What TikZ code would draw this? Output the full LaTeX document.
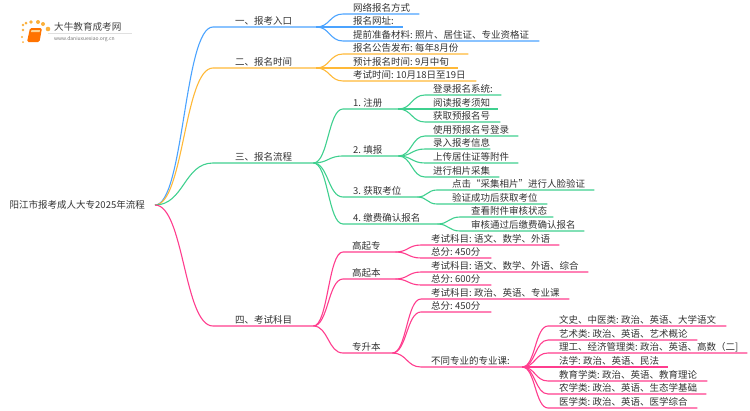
\documentclass[tikz,border=0pt]{standalone}
\usepackage{fontspec}
\setmainfont{Noto Sans CJK SC}
\usetikzlibrary{calc}
\definecolor{lineblue}{HTML}{4BA3FF}
\definecolor{lineorange}{HTML}{FFB938}
\definecolor{linegreen}{HTML}{3FD08F}
\definecolor{linepink}{HTML}{FF3D8E}
\definecolor{inktext}{HTML}{333333}
\definecolor{sunorange}{HTML}{FBB03B}
\tikzset{
    topic/.style={anchor=south west, inner xsep=0pt, inner ysep=0.4pt, align=left,
        font=\fontsize{9.5}{10}\selectfont, text=inktext, text height=8.5pt, text depth=1.5pt},
    branch/.style={to path={.. controls ($(\tikztostart)!.5!(\tikztostart-|\tikztotarget)$)
        and ($(\tikztotarget)!.5!(\tikztostart|-\tikztotarget)$) .. (\tikztotarget)}}
}
\newcommand{\gap}{\hspace{2.2pt}}
% colour, name, parent anchor, x, y, end of line, text start, text
\newcommand{\topicline}[8]{
    \pgfmathsetmacro{\linew}{#6-#4}
    \pgfmathsetmacro{\textpad}{#7-#4}
    \node[topic, text width=\linew pt] (#2) at (#4, #5) {\hspace*{\textpad pt}#8};
    \draw[#1, line width=1.1pt] (#3) to[branch] (#2.south west) -- (#2.south east);
}
\begin{document}
\begin{tikzpicture}[x=1pt, y=-1pt]
    \useasboundingbox (0, 0) rectangle (750, 410);
    % logo
    \foreach \dotx/\doty/\dotr in {23/25/1.3, 26/23/1.5, 31/22/1.9, 38/22/2, 43/24/2, 48/29/2.3, 23/30/1.3, 22/37/1.1, 23/42/1}
        \fill[sunorange] (\dotx, \doty) circle (\dotr);
    \fill[orange!90!red, rounded corners=1.5pt] (30, 28) -- (42, 28) -- (39.5, 42) -- (27, 42) -- cycle;
    \fill[sunorange!55!white] (31.5, 30) -- (40, 30) -- (39.6, 32) -- (31, 32) -- cycle;
    \draw[black!12] (48, 33) -- (132, 33);
    \node[anchor=west, inner sep=0pt, text=black!75, font=\fontsize{9.6}{10}\selectfont] (logoname) at (54, 27) {大牛教育成考网};
    \node[anchor=west, inner sep=0pt, text=black!55, font=\fontsize{5}{6}\selectfont] (logourl) at (54, 39) {www.daniuxuexiao.org.cn};
    % root
    \node[anchor=east, inner xsep=0pt, inner ysep=1pt, text=inktext, font=\fontsize{9.5}{10}\selectfont, minimum width=145pt, align=right] (root) at (155, 205) {阳江市报考成人大专2025年流程\hspace*{10pt}};
    % first branch
    \topicline{lineblue}{entry}{root.east}{213}{27}{316}{235}{一、报考入口}
    \topicline{lineblue}{entrya}{entry.south east}{343}{14}{419}{353}{网络报名方式}
    \topicline{lineblue}{entryb}{entry.south east}{343}{27}{403}{353}{报名网址:}
    \topicline{lineblue}{entryc}{entry.south east}{343}{41}{539}{353}{提前准备材料:\gap 照片、居住证、专业资格证}
    % second branch
    \topicline{lineorange}{dates}{root.east}{213}{68}{316}{235}{二、报名时间}
    \topicline{lineorange}{datesa}{dates.south east}{343}{54}{468}{353}{报名公告发布:\gap 每年8月份}
    \topicline{lineorange}{datesb}{dates.south east}{343}{68}{458}{353}{预计报名时间:\gap 9月中旬}
    \topicline{lineorange}{datesc}{dates.south east}{343}{81}{476}{353}{考试时间:\gap 10月18日至19日}
    % third branch
    \topicline{linegreen}{steps}{root.east}{213}{163}{313}{235}{三、报名流程}
    \topicline{linegreen}{regist}{steps.south east}{343}{109}{398}{353}{1.\gap 注册}
    \topicline{linegreen}{regista}{regist.south east}{425}{95}{501}{433}{登录报名系统:}
    \topicline{linegreen}{registb}{regist.south east}{425}{109}{498}{433}{阅读报考须知}
    \topicline{linegreen}{registc}{regist.south east}{425}{122}{500}{433}{获取预报名号}
    \topicline{linegreen}{fill}{steps.south east}{343}{156}{398}{353}{2.\gap 填报}
    \topicline{linegreen}{filla}{fill.south east}{425}{136}{518}{433}{使用预报名号登录}
    \topicline{linegreen}{fillb}{fill.south east}{425}{149}{490}{433}{录入报考信息}
    \topicline{linegreen}{fillc}{fill.south east}{425}{163}{518}{433}{上传居住证等附件}
    \topicline{linegreen}{filld}{fill.south east}{425}{177}{499}{433}{进行相片采集}
    \topicline{linegreen}{seat}{steps.south east}{343}{197}{417}{353}{3.\gap 获取考位}
    \topicline{linegreen}{seata}{seat.south east}{437}{190}{594}{452}{点击“采集相片”进行人脸验证}
    \topicline{linegreen}{seatb}{seat.south east}{437}{204}{547}{452}{验证成功后获取考位}
    \topicline{linegreen}{pay}{steps.south east}{343}{224}{437}{353}{4.\gap 缴费确认报名}
    \topicline{linegreen}{paya}{pay.south east}{460}{217}{553}{471}{查看附件审核状态}
    \topicline{linegreen}{payb}{pay.south east}{460}{231}{584}{471}{审核通过后缴费确认报名}
    % fourth branch
    \topicline{linepink}{exam}{root.east}{213}{326}{313}{235}{四、考试科目}
    \topicline{linepink}{gqz}{exam.south east}{343}{252}{395}{352}{高起专}
    \topicline{linepink}{gqza}{gqz.south east}{421}{245}{559}{431}{考试科目:\gap 语文、数学、外语}
    \topicline{linepink}{gqzb}{gqz.south east}{421}{258}{491}{431}{总分:\gap 450分}
    \topicline{linepink}{gqb}{exam.south east}{343}{279}{395}{352}{高起本}
    \topicline{linepink}{gqba}{gqb.south east}{421}{272}{588}{431}{考试科目:\gap 语文、数学、外语、综合}
    \topicline{linepink}{gqbb}{gqb.south east}{421}{285}{491}{431}{总分:\gap 600分}
    \topicline{linepink}{zsb}{exam.south east}{343}{353}{392}{352}{专升本}
    \topicline{linepink}{zsba}{zsb.south east}{421}{299}{569}{431}{考试科目:\gap 政治、英语、专业课}
    \topicline{linepink}{zsbb}{zsb.south east}{421}{312}{491}{431}{总分:\gap 450分}
    \topicline{linepink}{major}{zsb.south east}{421}{367}{522}{431}{不同专业的专业课:}
    \topicline{linepink}{majora}{major.south east}{548}{326}{726}{559}{文史、中医类:\gap 政治、英语、大学语文}
    \topicline{linepink}{majorb}{major.south east}{548}{340}{697}{559}{艺术类:\gap 政治、英语、艺术概论}
    \topicline{linepink}{majorc}{major.south east}{548}{353}{747}{559}{理工、经济管理类:\gap 政治、英语、高数（二]}
    \topicline{linepink}{majord}{major.south east}{548}{367}{668}{559}{法学:\gap 政治、英语、民法}
    \topicline{linepink}{majore}{major.south east}{548}{381}{707}{559}{教育学类:\gap 政治、英语、教育理论}
    \topicline{linepink}{majorf}{major.south east}{548}{394}{706}{559}{农学类:\gap 政治、英语、生态学基础}
    \topicline{linepink}{majorg}{major.south east}{548}{408}{697}{559}{医学类:\gap 政治、英语、医学综合}
\end{tikzpicture}
\end{document}
